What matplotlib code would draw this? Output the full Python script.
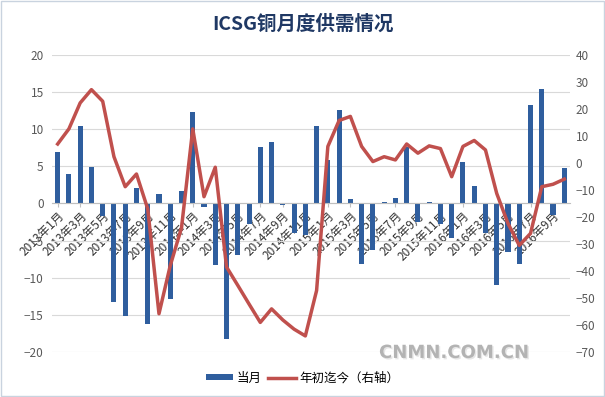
import matplotlib
matplotlib.use('Agg')
import matplotlib.pyplot as plt
import matplotlib.patheffects as pe
from matplotlib.patches import Patch, Rectangle
from matplotlib.lines import Line2D
import numpy as np

plt.rcParams['font.family'] = ['Noto Sans CJK SC', 'DejaVu Sans']

# 当月 (left axis), 2013-01 .. 2016-10
monthly = [6.9, 3.9, 10.45, 4.9, -1.67, -13.3, -15.2, 2.1, -16.2, 1.26,
           -12.8, 1.67, 12.3, -0.45, -8.3, -18.2, -6.95, -2.8, 7.66, 8.3,
           -0.27, -3.96, -4.3, 10.45, 5.86, 12.6, 0.6, -8.2, -6.3, 0.2,
           0.7, 7.66, -2.5, 0.2, -2.7, -4.7, 5.6, 2.4, -3.96, -11.0,
           -6.5, -8.2, 13.3, 15.45, -1.5, 4.8]

# 年初迄今 (right axis)
ytd = [7.0, 12.6, 22.2, 27.1, 22.8, 2.3, -8.8, -4.1, -17.0, -55.8,
       -38.0, -24.0, 12.6, -12.5, -1.6, -38.5, -45.3, -52.2, -59.0, -54.0,
       -58.1, -61.5, -64.0, -47.2, 6.1, 15.7, 17.2, 6.1, 0.5, 2.3,
       1.1, 7.0, 3.6, 6.3, 5.3, -5.1, 6.1, 8.3, 4.8, -11.3,
       -22.4, -30.5, -26.1, -8.8, -7.9, -6.0]

tick_labels = ['2013年1月', '2013年3月', '2013年5月', '2013年7月', '2013年9月', '2013年11月',
               '2014年1月', '2014年3月', '2014年5月', '2014年7月', '2014年9月', '2014年11月',
               '2015年1月', '2015年3月', '2015年5月', '2015年7月', '2015年9月', '2015年11月',
               '2016年1月', '2016年3月', '2016年5月', '2016年7月', '2016年9月']

bar_color = '#2f5e9e'
line_color = '#c0504d'
text_color = '#595959'

fig = plt.figure(figsize=(6.05, 3.97), dpi=100)
ax = fig.add_axes([0.086, 0.113, 0.856, 0.749])

x = np.arange(len(monthly))
ax.bar(x, monthly, width=0.45, color=bar_color, zorder=2)
ax.set_xlim(-0.5, len(monthly) - 0.5)
ax.set_ylim(-20, 20)
ax.set_yticks(range(-20, 25, 5))
ax.grid(axis='y', color='#d9d9d9', lw=0.8)
ax.set_axisbelow(True)
for s in ['top', 'right', 'left']:
    ax.spines[s].set_visible(False)
ax.spines['bottom'].set_position(('data', 0))
ax.spines['bottom'].set_color('#bfbfbf')
ax.set_xticks(x[::2])
ax.set_xticklabels(tick_labels, rotation=45, ha='right', rotation_mode='anchor',
                   fontsize=8.5, color='#333333')
ax.tick_params(axis='x', length=3, color='#bfbfbf', pad=1)
ax.tick_params(axis='y', length=0, labelsize=8.5, labelcolor=text_color, pad=6)

ax2 = ax.twinx()
ax2.plot(x, ytd, color=line_color, lw=2.5, solid_joinstyle='round')
ax2.set_ylim(-70, 40)
ax2.set_yticks(range(-70, 50, 10))
for s in ax2.spines.values():
    s.set_visible(False)
ax2.tick_params(axis='y', length=0, labelsize=8.5, labelcolor=text_color, pad=4)

fig.text(0.5, 0.94, 'ICSG铜月度供需情况', ha='center', va='center',
         fontsize=14, fontweight='bold', color='#1f3864')

handles = [Patch(facecolor=bar_color), Line2D([0], [0], color=line_color, lw=2.5)]
fig.legend(handles, ['当月', '年初迄今（右轴）'], loc='center', bbox_to_anchor=(0.5, 0.048),
           ncol=2, frameon=False, fontsize=9, handlelength=2.2, handleheight=0.45,
           columnspacing=0.5, handletextpad=0.3)

fig.text(0.75, 0.111, 'CNMN.COM.CN', ha='center', va='center', fontsize=13,
         fontweight='bold', family='DejaVu Sans', color='#b3b3b3',
         path_effects=[pe.withSimplePatchShadow(offset=(1, -1), shadow_rgbFace='#e6e6e6', alpha=1)])

fig.patches.append(Rectangle((0.002, 0.002), 0.996, 0.996, transform=fig.transFigure,
                             fill=False, edgecolor='#c9d3df', lw=1))

fig.savefig('out.png', dpi=100)
